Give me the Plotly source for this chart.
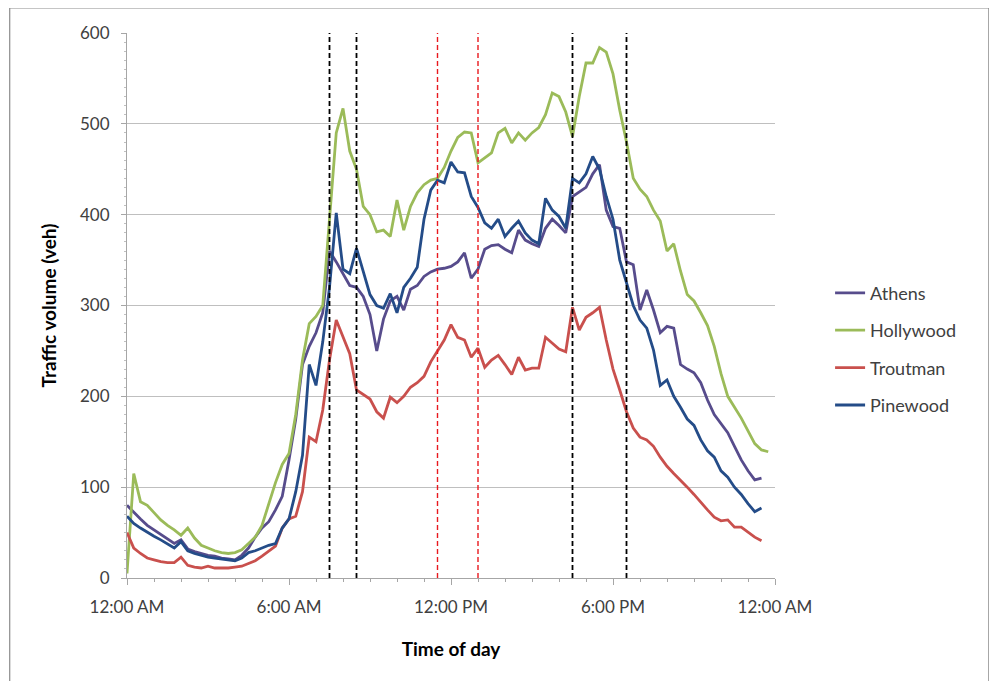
import plotly.graph_objects as go

# Time of day in hours, 15-minute steps
hours = [i * 0.25 for i in range(96)]

athens = [80, 72, 65, 58, 53, 48, 43, 38, 42, 32, 29, 27, 25, 24, 22, 21, 20, 25, 33, 45,
          55, 62, 75, 90, 130, 175, 235, 255, 270, 292, 360, 348, 335, 322, 320, 310, 290, 250, 285, 305,
          310, 295, 318, 322, 332, 337, 340, 341, 343, 348, 358, 330, 340, 362, 366, 367, 362, 358, 383, 372,
          368, 365, 385, 395, 388, 380, 420, 425, 430, 445, 455, 405, 387, 385, 348, 345, 295, 317, 295, 270,
          277, 275, 235, 230, 226, 215, 196, 180, 170, 160, 145, 130, 118, 108, 110]

hollywood = [5, 115, 84, 80, 72, 64, 58, 53, 47, 55, 44, 36, 33, 30, 28, 27, 28, 31, 38, 45,
             58, 82, 105, 125, 137, 180, 240, 280, 288, 300, 390, 490, 517, 470, 450, 409, 400, 381, 383, 376,
             416, 383, 409, 424, 433, 438, 440, 452, 470, 485, 491, 490, 457, 463, 468, 490, 495, 479, 490, 482,
             490, 496, 510, 534, 530, 513, 486, 530, 567, 567, 584, 579, 555, 515, 480, 440, 428, 420, 405, 393,
             360, 368, 338, 312, 305, 292, 278, 255, 225, 200, 188, 176, 162, 148, 141, 139]

troutman = [50, 33, 27, 22, 20, 18, 17, 17, 23, 14, 12, 11, 13, 11, 11, 11, 12, 13, 16, 19,
            24, 30, 35, 55, 65, 68, 95, 155, 150, 185, 240, 284, 265, 247, 207, 202, 197, 183, 176, 199,
            193, 200, 210, 215, 222, 238, 250, 262, 279, 265, 262, 243, 253, 232, 240, 245, 235, 224, 243, 229,
            231, 231, 265, 258, 252, 249, 298, 273, 287, 292, 298, 262, 230, 207, 183, 165, 155, 152, 145, 133,
            123, 115, 108, 100, 92, 83, 75, 67, 63, 64, 56, 56, 50, 45, 41]

pinewood = [68, 60, 55, 50, 46, 42, 37, 33, 40, 30, 27, 25, 23, 22, 21, 20, 19, 22, 28, 30,
            33, 36, 38, 55, 65, 95, 135, 235, 212, 260, 320, 402, 340, 335, 363, 336, 312, 300, 297, 313,
            292, 320, 330, 342, 395, 427, 438, 435, 458, 447, 446, 420, 408, 391, 385, 395, 376, 385, 393, 380,
            372, 368, 418, 405, 398, 385, 440, 435, 445, 464, 450, 420, 395, 350, 325, 300, 284, 275, 251, 212,
            218, 200, 188, 175, 168, 152, 140, 133, 118, 111, 100, 92, 82, 73, 77]

# Period boundaries (hours)
black_periods = [7.5, 8.5, 16.5, 18.5]
red_periods = [11.5, 13.0]

x_tickvals = [0, 6, 12, 18, 24]
x_ticktext = ["12:00 AM", "6:00 AM", "12:00 PM", "6:00 PM", "12:00 AM"]

series = [
    ("Athens", athens, "#574c8c"),
    ("Hollywood", hollywood, "#9bbb59"),
    ("Troutman", troutman, "#c9504d"),
    ("Pinewood", pinewood, "#244c88"),
]

FONT = "Lato, 'Open Sans', sans-serif"

fig = go.Figure()
for name, vals, color in series:
    fig.add_trace(go.Scatter(
        x=hours[:len(vals)], y=vals, mode="lines", name=name,
        line=dict(color=color, width=2.8), legendgroup=name,
    ))

for xv in black_periods:
    fig.add_shape(type="line", xref="x", yref="y", x0=xv, x1=xv, y0=0, y1=600,
                  line=dict(color="black", width=1.8, dash="5px,3px"))
for xv in red_periods:
    fig.add_shape(type="line", xref="x", yref="y", x0=xv, x1=xv, y0=0, y1=600,
                  line=dict(color="#e8191e", width=1.4, dash="5px,3px"))

# Chart border
fig.add_shape(type="rect", xref="paper", yref="paper",
              x0=-0.181, x1=1.33, y0=-0.3, y1=1.046,
              line=dict(color="#8c8c8c", width=1.2), fillcolor="rgba(0,0,0,0)", layer="below")

fig.update_layout(
    width=997, height=681,
    margin=dict(l=119, r=230, t=25, b=111),
    paper_bgcolor="white", plot_bgcolor="white",
    font=dict(family=FONT, size=16, color="#404040"),
    legend=dict(x=1.085, y=0.42, xanchor="left", yanchor="middle",
                font=dict(family=FONT, size=18, color="#404040"),
                tracegroupgap=11, bgcolor="rgba(0,0,0,0)"),
    showlegend=True,
)
fig.update_xaxes(
    range=[0, 24], tickvals=x_tickvals, ticktext=x_ticktext,
    showgrid=False, showline=True, linecolor="#a6a6a6", linewidth=1,
    ticks="outside", ticklen=6, tickcolor="#a6a6a6",
    minor=dict(dtick=1, ticks="outside", ticklen=3, tickcolor="#a6a6a6"),
    ticklabelstandoff=8,
    tickfont=dict(family=FONT, size=17, color="#404040"),
    title=dict(text="<b>Time of day</b>", font=dict(family=FONT, size=19, color="black"), standoff=26),
    zeroline=False,
)
fig.update_yaxes(
    range=[0, 600], dtick=100, tick0=0,
    showgrid=True, gridcolor="#bfbfbf", gridwidth=1,
    showline=True, linecolor="#a6a6a6", linewidth=1,
    ticks="outside", ticklen=5, tickcolor="#a6a6a6",
    minor=dict(dtick=10, ticks="outside", ticklen=2, tickcolor="#c0c0c0"),
    ticklabelstandoff=8,
    tickfont=dict(family=FONT, size=17, color="#404040"),
    title=dict(text="<b>Traffic volume (veh)</b>", font=dict(family=FONT, size=19, color="black"), standoff=18),
    zeroline=False,
)

fig.write_html("out.html")
